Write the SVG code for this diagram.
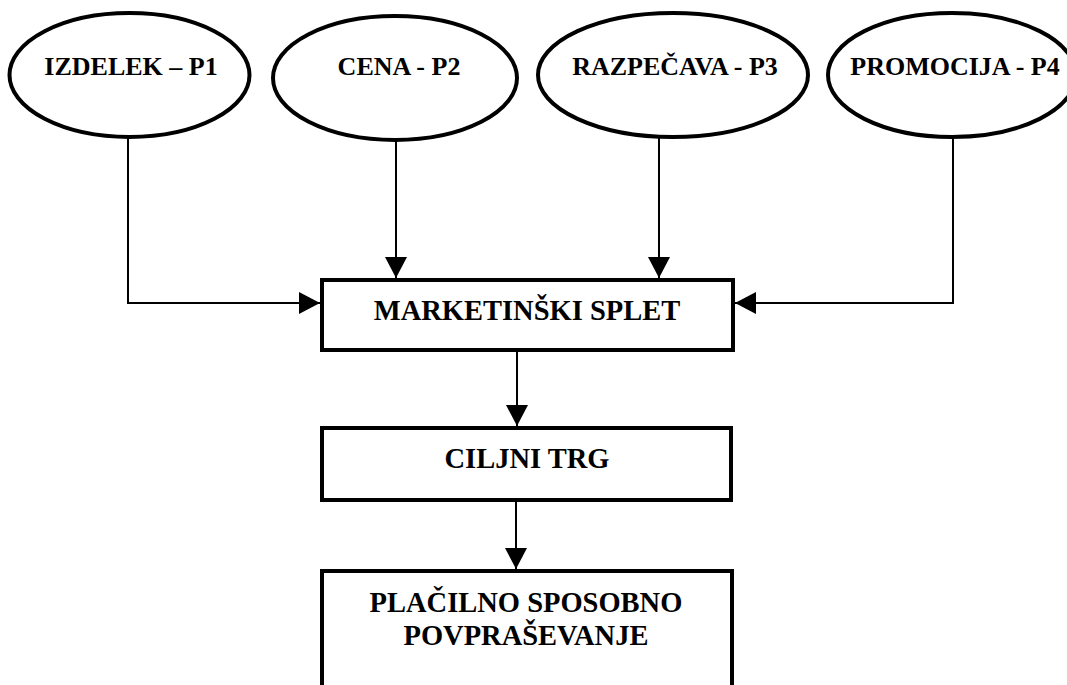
<svg xmlns="http://www.w3.org/2000/svg" width="1067" height="685" viewBox="0 0 1067 685">
<style>
.node ellipse, .node rect { fill: #fff; stroke: #000; stroke-width: 4; }
.t { font-family: "Liberation Serif", "Times New Roman", serif; font-weight: bold; fill: #000; text-anchor: middle; }
.e { font-size: 26px; }
.b { font-size: 28.5px; }
.conn path { fill: none; stroke: #000; stroke-width: 2; }
</style>
<defs>
<marker id="ah" viewBox="0 0 21 22" refX="21" refY="11" markerWidth="21" markerHeight="22" markerUnits="userSpaceOnUse" orient="auto">
<path d="M0,0 L21,11 L0,22 Z" fill="#000"/>
</marker>
</defs>
<rect width="1067" height="685" fill="#fff"/>
<g id="connectors" class="conn">
<path d="M128,138 V303 H320" marker-end="url(#ah)"/>
<path d="M396,141 V278" marker-end="url(#ah)"/>
<path d="M659,138 V278" marker-end="url(#ah)"/>
<path d="M953,138 V303 H735" marker-end="url(#ah)"/>
<path d="M517,352 V426" marker-end="url(#ah)"/>
<path d="M516,502 V569" marker-end="url(#ah)"/>
</g>
<g id="n-izdelek" class="node">
<ellipse cx="129.5" cy="75" rx="120" ry="62"/>
<text class="t e" x="131" y="75">IZDELEK – P1</text>
</g>
<g id="n-cena" class="node">
<ellipse cx="395" cy="78" rx="122" ry="62"/>
<text class="t e" x="399" y="75">CENA - P2</text>
</g>
<g id="n-razpecava" class="node">
<ellipse cx="673" cy="75" rx="135" ry="62"/>
<text class="t e" x="675" y="75">RAZPEČAVA - P3</text>
</g>
<g id="n-promocija" class="node">
<ellipse cx="952" cy="75" rx="124" ry="62"/>
<text class="t e" x="955" y="75">PROMOCIJA - P4</text>
</g>
<g id="n-splet" class="node">
<rect x="322" y="280" width="411" height="70"/>
<text class="t b" x="527" y="320">MARKETINŠKI SPLET</text>
</g>
<g id="n-trg" class="node">
<rect x="322" y="428" width="409" height="72"/>
<text class="t b" x="527" y="468">CILJNI TRG</text>
</g>
<g id="n-povprasevanje" class="node">
<rect x="322" y="571" width="410" height="130"/>
<text class="t b" x="526" y="612">PLAČILNO SPOSOBNO</text>
<text class="t b" x="526" y="645">POVPRAŠEVANJE</text>
</g>
</svg>
